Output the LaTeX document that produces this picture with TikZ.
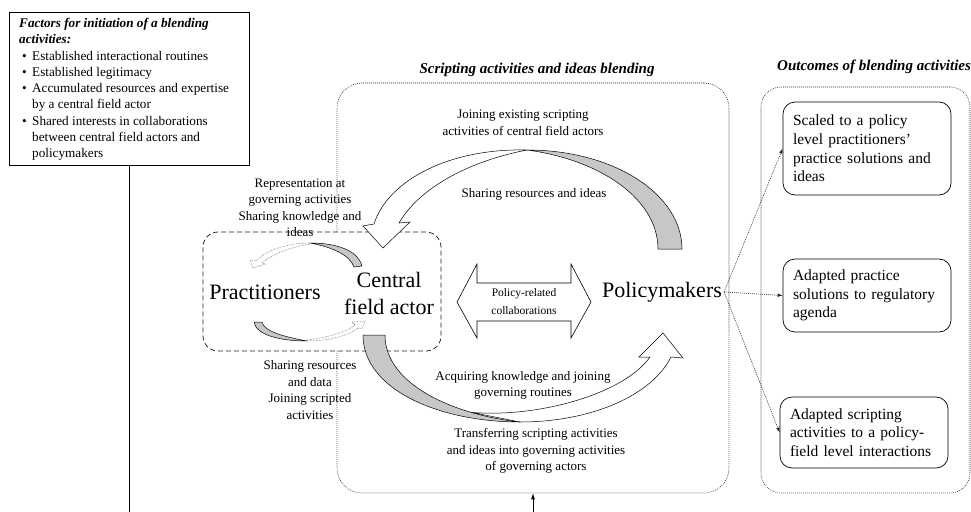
\documentclass[tikz,border=0pt]{standalone}
\usepackage{fontspec}
\setmainfont{Liberation Serif}
\usetikzlibrary{arrows.meta}
\begin{document}
\begin{tikzpicture}[x=1pt,y=-1pt,
  lbl/.style={font=\fontsize{13}{16.5}\selectfont, align=center, inner sep=0pt},
  bigtxt/.style={font=\fontsize{22}{27}\selectfont, align=center, inner sep=2pt},
  ttl/.style={font=\fontsize{15}{18}\selectfont\bfseries\itshape, inner sep=0pt},
  obox/.style={draw, line width=0.7pt, rounded corners=12pt, minimum width=168pt, text width=148pt, inner xsep=10pt, inner ysep=0pt, align=left, font=\fontsize{15.5}{18.7}\selectfont},
  dotbox/.style={draw=black!85, dash pattern=on 0.9pt off 1.1pt, line width=0.55pt, rounded corners=25pt},
  grayband/.style={fill=black!22, draw=black, line width=0.5pt, line join=round},
  whiteband/.style={fill=white, draw=black, line width=0.5pt},
  dotband/.style={fill=white, draw=black!70, densely dotted, line width=0.5pt},
  link/.style={draw=black!85, dash pattern=on 1pt off 1pt, line width=0.55pt, -{Latex[length=5pt,width=3.5pt]}}
]
\useasboundingbox (0,0) rectangle (971,511);
\fill[white] (0,0) rectangle (971,511);
\clip (0,0) rectangle (971,511);

% factors box
\node[draw, line width=0.7pt, minimum width=240pt, minimum height=153pt, inner sep=0pt] (fb) at (129,88.5) {};
\node[anchor=north west, inner sep=0pt, align=left, font=\fontsize{13.2}{16.3}\selectfont] (fbt) at (19,18) {%
{\bfseries\itshape Factors for initiation of a blending}\\
{\bfseries\itshape activities:}\\
\hspace*{3pt}\makebox[10pt][l]{•}Established interactional routines\\
\hspace*{3pt}\makebox[10pt][l]{•}Established legitimacy\\
\hspace*{3pt}\makebox[10pt][l]{•}Accumulated resources and expertise\\
\hspace*{13pt}by a central field actor\\
\hspace*{3pt}\makebox[10pt][l]{•}Shared interests in collaborations\\
\hspace*{13pt}between central field actors and\\
\hspace*{13pt}policymakers};

% titles
\node[ttl] (t1) at (537,70) {Scripting activities and ideas blending};
\node[ttl, anchor=west] (t2) at (777,67) {Outcomes of blending activities};

% middle and outcomes containers
\node[dotbox, minimum width=392pt, minimum height=410pt, inner sep=0pt] (mb) at (533,288) {};
\node[dotbox, rounded corners=20pt, minimum width=209pt, minimum height=406pt, inner sep=0pt] (ob) at (865.5,290) {};

% connector from factors
\coordinate (fbend) at (129,515);
\draw[line width=0.7pt] (fb.south) -- (fbend);
\coordinate (mbin) at (533,515);
\draw[line width=0.7pt, -{Latex[length=6pt,width=4pt]}] (mbin) -- (mb.south);

% dashed box
\node[draw=black!85, fill=white, dash pattern=on 5pt off 3pt, line width=0.8pt, rounded corners=15pt, minimum width=238pt, minimum height=119pt, inner sep=0pt] (db) at (322,291.5) {};

% small arrows inside dashed box
\draw[dotband] (310,243) .. controls (288,243) and (266,250) .. (256,261) -- (250,260) -- (253,268) -- (266,264) -- (262,263) .. controls (274,253) and (292,247) .. (310,244) -- cycle;
\draw[grayband] (362,266) .. controls (358,251) and (338,243) .. (310,243) .. controls (332,247) and (350,255) .. (354,267) -- cycle;
\draw[dotband] (307,341) .. controls (330,341) and (350,335) .. (358,328) -- (362,329) -- (365,321) -- (352,322) -- (355,325) .. controls (345,333) and (325,338) .. (307,340) -- cycle;
\draw[grayband] (254,322) .. controls (256,335) and (280,341) .. (307,341) .. controls (286,337) and (264,332) .. (262,322) -- cycle;

% big top arrow
\draw[whiteband] (527,150) .. controls (450,148) and (388,180) .. (374,224) -- (363,226) -- (383,248) -- (410,222) -- (399,223) .. controls (418,190) and (465,162) .. (527,150) -- cycle;
\draw[grayband] (682,249) .. controls (682,195) and (615,150) .. (527,150) .. controls (602,160) and (658,200) .. (658,249) -- cycle;

% big bottom arrow
\draw[whiteband] (520,422) .. controls (592,422) and (652,395) .. (671,357) -- (683,358) -- (663,333) -- (639,357) -- (650,357) .. controls (625,393) and (540,418) .. (471.5,412.4) -- cycle;
\draw[grayband] (363,335) .. controls (363,390) and (440,422) .. (520,422) .. controls (455,415) and (385,385) .. (385,335) -- cycle;

% double arrow
\draw[line width=0.6pt, fill=white] (457,302) -- (477,264) -- (477,283) -- (571,283) -- (571,264) -- (591,302) -- (571,338) -- (571,321) -- (477,321) -- (477,338) -- cycle;
\node[font=\fontsize{11.5}{18}\selectfont, align=center, inner sep=0pt] (prc) at (524,302) {Policy-related\\collaborations};

% actors
\node[bigtxt] (pr) at (265,292) {Practitioners};
\node[bigtxt] (cfa) at (389,293.5) {Central\\field actor};
\node[bigtxt] (pm) at (662,292) {Policymakers};

% labels
\node[lbl] (l1) at (523,123) {Joining existing scripting\\activities of central field actors};
\node[lbl] (l2) at (534,194) {Sharing resources and ideas};
\node[lbl] (l3) at (300,208) {Representation at\\governing activities\\Sharing knowledge and\\ideas};
\node[lbl] (l4) at (310,390) {Sharing resources\\and data\\Joining scripted\\activities};
\node[lbl] (l5) at (523,385.5) {Acquiring knowledge and joining\\governing routines};
\node[lbl] (l6) at (536,451) {Transferring scripting activities\\and ideas into governing activities\\of governing actors};

% outcomes
\node[obox, minimum height=93pt] (o1) at (867,148.5) {Scaled to a policy\\level practitioners'\\practice solutions and\\ideas};
\node[obox, minimum height=73pt] (o2) at (867,295.5) {Adapted practice\\solutions to regulatory\\agenda};
\node[obox, minimum height=71pt] (o3) at (864,432.5) {Adapted scripting\\activities to a policy-\\field level interactions};

\draw[link] (pm.east) -- (o1.west);
\draw[link] (pm.east) -- (o2.west);
\draw[link] (pm.east) -- (o3.west);
\end{tikzpicture}
\end{document}
